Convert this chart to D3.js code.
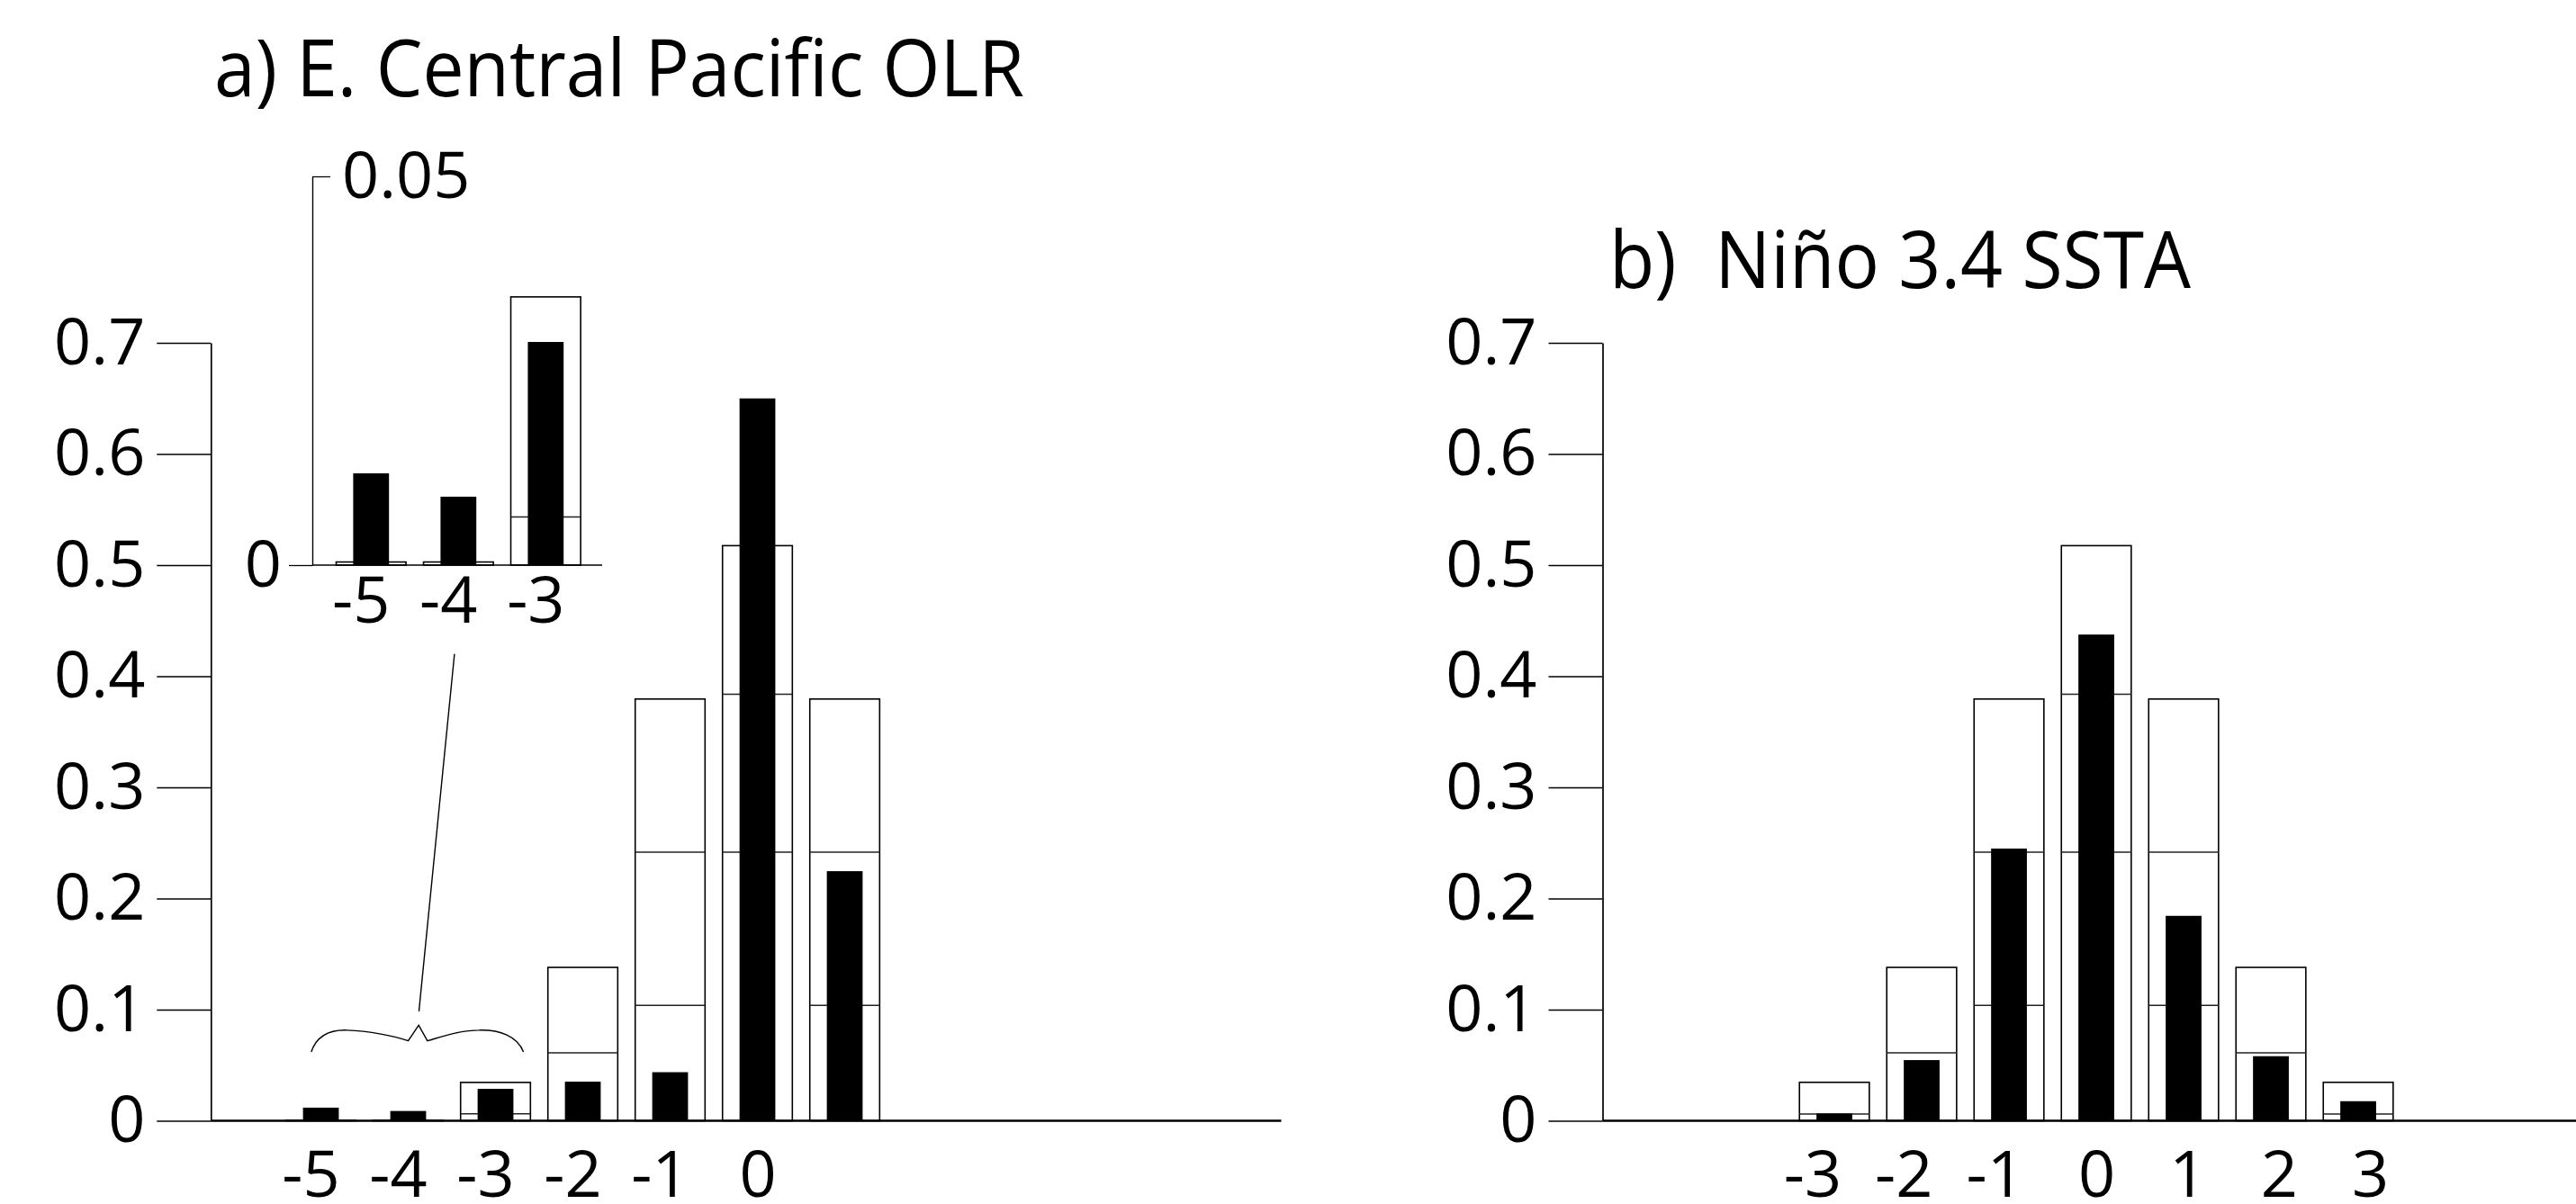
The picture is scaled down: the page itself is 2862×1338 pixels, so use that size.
<!DOCTYPE html>
<html>
<head>
<meta charset="utf-8">
<script src="https://cdn.jsdelivr.net/npm/d3@7"></script>
<style>
  html, body { margin: 0; padding: 0; background: #fff; }
  svg { display: block; font-family: "Open Sans", sans-serif; }
</style>
</head>
<body>
<svg id="chart" width="2862" height="1338"></svg>
<script>
// a) E. Central Pacific OLR
const catsA = [-5, -4, -3, -2, -1, 0, 1];
const obsA  = [0.0118, 0.0088, 0.0287, 0.0352, 0.0437, 0.650, 0.2246];
const topA  = [0.0004, 0.0004, 0.0345, 0.138, 0.3795, 0.5175, 0.3795];
const midA  = [null, null, 0.0062, 0.0611, 0.2418, 0.3838, 0.2418];
const lowA  = [null, null, null, null, 0.1039, 0.2418, 0.1039];
const xTicksA = [-5, -4, -3, -2, -1, 0];

// inset of a) : the three weakest classes blown up
const insetCats = [-5, -4, -3];
const insetYTicks = [0.05];

// b) Nino 3.4 SSTA
const catsB = [-3, -2, -1, 0, 1, 2, 3];
const obsB  = [0.0065, 0.0546, 0.2449, 0.4375, 0.1844, 0.0581, 0.0176];
const topB  = [0.0346, 0.138, 0.3795, 0.5175, 0.3795, 0.138, 0.0346];
const midB  = [0.006, 0.0611, 0.2418, 0.3838, 0.2418, 0.0611, 0.006];
const lowB  = [null, null, 0.1039, 0.2418, 0.1039, null, null];
const xTicksB = [-3, -2, -1, 0, 1, 2, 3];

const yTicks = [0, 0.1, 0.2, 0.3, 0.4, 0.5, 0.6, 0.7];

const FONT = '"Open Sans", sans-serif';
const STEP = 97;  // px per class

const svg = d3.select("#chart");
svg.append("rect").attr("width", 2862).attr("height", 1338).attr("fill", "#fff");

const y = d3.scaleLinear().domain([0, 0.7]).range([1245.5, 381]);
const xa = d3.scaleLinear().domain([-6.26, 6.0]).range([234.3, 234.3 + 12.26 * STEP]);
const xb = d3.scaleLinear().domain([-5.655, 6.6]).range([1780.5, 1780.5 + 12.255 * STEP]);

const fmtY = d => d === 0 ? "0" : d3.format(".1f")(d);

function styleAxis(sel, tickW, domainW) {
    sel.attr("font-size", 72).attr("font-family", FONT);
    sel.selectAll(".tick line").attr("stroke-width", tickW);
    sel.select(".domain").attr("stroke-width", domainW);
}

function drawBars(g, x, yS, cats, obs, top, mid, low) {
    const outerW = 0.8 * STEP, blackW = 0.41 * STEP;
    const rows = cats.map((c, i) => ({
        c: c, obs: obs[i], top: top[i],
        lines: [mid[i], low[i]].filter(v => v != null)
    }));
    const bars = g.selectAll(null).data(rows).enter().append("g");

    bars.append("rect")
        .attr("x", d => x(d.c) - outerW / 2)
        .attr("y", d => yS(d.top))
        .attr("width", outerW)
        .attr("height", d => yS(0) - yS(d.top))
        .attr("fill", "#fff")
        .attr("stroke", "#000")
        .attr("stroke-width", 1.6);

    bars.selectAll("line")
        .data(d => d.lines.map(v => ({ c: d.c, v: v })))
        .enter().append("line")
        .attr("x1", d => x(d.c) - outerW / 2)
        .attr("x2", d => x(d.c) + outerW / 2)
        .attr("y1", d => yS(d.v))
        .attr("y2", d => yS(d.v))
        .attr("stroke", "#222")
        .attr("stroke-width", 1.5);

    bars.append("rect")
        .attr("x", d => x(d.c) - blackW / 2)
        .attr("y", d => yS(d.obs))
        .attr("width", blackW)
        .attr("height", d => yS(0) - yS(d.obs))
        .attr("fill", "#000");
}

function xLabels(g, lx, yBase, ticks, pad) {
    const ax = g.append("g")
        .attr("transform", `translate(0,${yBase})`)
        .call(d3.axisBottom(lx).tickValues(ticks).tickSize(0).tickPadding(pad).tickFormat(d => String(d)));
    ax.select(".domain").remove();
    ax.attr("font-size", 72).attr("font-family", FONT);
    // digits sit on the class, the minus hangs out to the left
    ax.selectAll("text").attr("dx", d => d < 0 ? "-0.16em" : 0);
}

function drawPanel(x, cats, obs, top, mid, low, ticks, labelSpread) {
    const g = svg.append("g");

    g.append("g")
        .attr("transform", `translate(${x.range()[0]},0)`)
        .call(d3.axisLeft(y).tickValues(yTicks).tickSize(60).tickSizeOuter(0).tickPadding(13).tickFormat(fmtY))
        .call(s => styleAxis(s, 1.3, 1.7));

    drawBars(g, x, y, cats, obs, top, mid, low);

    g.append("line")
        .attr("x1", x.range()[0]).attr("x2", x.range()[1])
        .attr("y1", y(0)).attr("y2", y(0))
        .attr("stroke", "#000").attr("stroke-width", 2.4);

    const lx = d3.scaleLinear().domain([0, 1]).range([x(0), x(0) + STEP * labelSpread]);
    xLabels(g, lx, y(0), ticks, 33);
    return g;
}

const gA = drawPanel(xa, catsA, obsA, topA, midA, lowA, xTicksA, 1.0);
drawPanel(xb, catsB, obsB, topB, midB, lowB, xTicksB, 1.045);

// ---- inset in panel a ----
const yi = d3.scaleLinear().domain([0, 0.05]).range([y(0.5), y(0.5) - 432]);
const xi = d3.scaleLinear().domain([-5.673, -2.354]).range([347, 669]);
const nIn = insetCats.length;
const gI = svg.append("g");

drawBars(gI, xi, yi, insetCats, obsA.slice(0, nIn), topA.slice(0, nIn), midA.slice(0, nIn), lowA.slice(0, nIn));

gI.append("line")
    .attr("x1", xi.range()[0]).attr("x2", xi.range()[1])
    .attr("y1", yi(0)).attr("y2", yi(0))
    .attr("stroke", "#000").attr("stroke-width", 1.6);

gI.append("g")
    .attr("transform", `translate(${xi.range()[0]},0)`)
    .call(d3.axisLeft(yi).tickValues([0]).tickSize(26).tickSizeOuter(0).tickPadding(8).tickFormat(fmtY))
    .call(s => styleAxis(s, 1.3, 1.4));

gI.append("g")
    .attr("transform", `translate(${xi.range()[0]},0)`)
    .call(d3.axisRight(yi).tickValues(insetYTicks).tickSize(20).tickPadding(13).tickFormat(d3.format(".2f")))
    .call(s => { s.select(".domain").remove(); styleAxis(s, 1.3, 1.4); });

xLabels(gI, xi, yi(0), insetCats, 13);

// ---- brace and leader pointing from the small classes to the inset ----
const P = (u, v) => [xa(u), y(v)];
const bp = d3.path();
bp.moveTo(...P(-5.11, 0.062));
bp.bezierCurveTo(...P(-5.05, 0.076), ...P(-4.90, 0.082), ...P(-4.70, 0.0815));
bp.bezierCurveTo(...P(-4.45, 0.081), ...P(-4.15, 0.076), ...P(-4.00, 0.072));
bp.lineTo(...P(-3.88, 0.086));
bp.lineTo(...P(-3.78, 0.072));
bp.bezierCurveTo(...P(-3.60, 0.076), ...P(-3.40, 0.0815), ...P(-3.19, 0.0815));
bp.bezierCurveTo(...P(-2.95, 0.082), ...P(-2.75, 0.076), ...P(-2.68, 0.062));
gA.append("path").attr("d", bp.toString())
    .attr("fill", "none").attr("stroke", "#000").attr("stroke-width", 1.4);

const lead = [P(-3.47, 0.42), P(-3.877, 0.0985)];
gA.append("line")
    .attr("x1", lead[0][0]).attr("y1", lead[0][1])
    .attr("x2", lead[1][0]).attr("y2", lead[1][1])
    .attr("stroke", "#000").attr("stroke-width", 1.4);

// ---- titles ----
svg.append("text")
    .attr("x", 238).attr("y", 107)
    .attr("font-family", FONT).attr("font-size", 87)
    .attr("textLength", 900).attr("lengthAdjust", "spacingAndGlyphs")
    .text("a) E. Central Pacific OLR");

svg.append("text")
    .attr("x", 1788).attr("y", 320)
    .attr("font-family", FONT).attr("font-size", 87)
    .style("white-space", "pre")
    .attr("textLength", 646).attr("lengthAdjust", "spacingAndGlyphs")
    .text("b)  Niño 3.4 SSTA");
</script>
</body>
</html>
